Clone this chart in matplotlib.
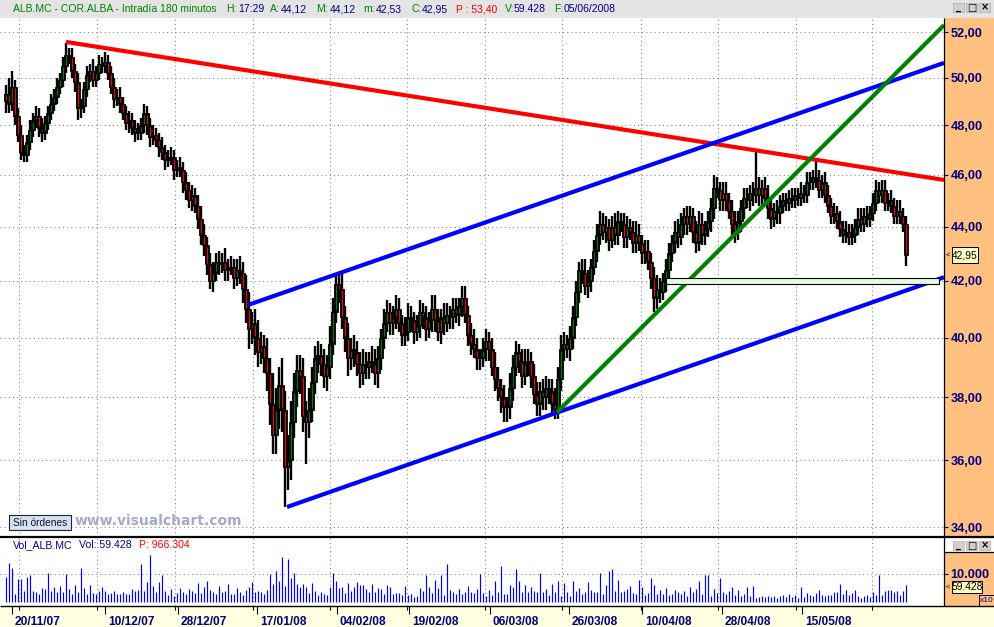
import matplotlib
matplotlib.use("Agg")
import matplotlib.pyplot as plt
from matplotlib.patches import Rectangle
from matplotlib.lines import Line2D
from matplotlib.ticker import NullLocator
import numpy as np

plt.rcParams['font.family'] = ['Liberation Sans', 'DejaVu Sans']

# ---------------------------------------------------------------- data
first_open = 49.0
close = [
    49.3, 48.9, 49.6, 48.4, 47.6, 46.9, 46.8, 47.3, 47.8, 48.2,
    48.4, 47.9, 47.7, 48.1, 48.5, 48.9, 49.2, 49.6, 49.9, 50.5,
    51.0, 50.9, 50.3, 49.8, 48.7, 48.8, 49.5, 50.1, 50.3, 49.9,
    50.2, 50.6, 50.5, 50.7, 50.2, 49.6, 49.1, 49.2, 48.9, 48.5,
    48.1, 48.2, 47.9, 47.7, 47.7, 48.0, 48.5, 48.0, 47.5, 47.6,
    47.4, 47.1, 46.9, 46.6, 46.7, 46.7, 46.2, 46.3, 46.2, 45.7,
    45.4, 45.0, 45.2, 44.8, 44.3, 43.7, 43.3, 42.6, 42.0, 42.3,
    42.7, 42.6, 42.7, 42.4, 42.5, 42.5, 42.1, 42.4, 42.3, 41.7,
    41.0, 40.3, 40.5, 40.0, 39.5, 39.7, 39.3, 38.8, 37.8, 36.8,
    37.6, 38.4, 37.6, 35.8, 36.0, 37.2, 38.2, 38.9, 38.7, 37.4,
    37.2, 37.6, 38.5, 39.3, 39.4, 39.1, 38.7, 39.0, 39.8, 40.9,
    41.9, 41.7, 40.7, 40.0, 39.3, 39.6, 39.5, 39.1, 38.8, 39.1,
    39.0, 39.2, 39.1, 38.8, 39.3, 40.0, 40.5, 40.9, 40.5, 40.7,
    41.0, 40.5, 40.1, 40.2, 40.7, 40.6, 40.2, 40.4, 40.9, 40.7,
    40.3, 40.6, 41.0, 40.6, 40.2, 40.7, 40.5, 40.8, 40.7, 41.0,
    40.8, 41.1, 41.4, 40.8, 40.1, 39.8, 39.6, 39.3, 39.3, 39.6,
    39.9, 39.6, 39.0, 38.6, 38.3, 38.0, 37.7, 37.7, 38.3, 39.0,
    39.5, 39.2, 38.7, 39.1, 39.2, 38.7, 38.1, 37.8, 38.2, 38.0,
    38.3, 38.2, 37.8, 37.6, 38.6, 39.6, 39.8, 39.6, 40.0, 40.7,
    41.6, 42.4, 42.3, 41.8, 42.0, 42.5, 43.1, 43.7, 44.1, 43.8,
    44.0, 43.5, 44.0, 43.7, 44.2, 44.1, 43.6, 44.0, 43.8, 43.4,
    43.7, 43.4, 43.0, 43.1, 42.7, 42.1, 41.4, 41.7, 41.6, 42.0,
    42.4, 43.0, 43.4, 43.8, 43.6, 44.1, 44.4, 44.1, 44.4, 43.8,
    43.4, 44.1, 43.7, 43.9, 44.2, 44.7, 45.5, 45.4, 45.0, 45.3,
    45.0, 44.6, 44.1, 43.8, 44.2, 44.7, 45.1, 45.0, 45.3, 45.2,
    45.5, 45.2, 45.5, 45.1, 44.7, 44.3, 44.6, 44.5, 44.8, 45.0,
    44.9, 45.1, 45.0, 45.2, 45.1, 45.3, 45.2, 45.7, 45.7, 45.9,
    45.8, 45.4, 45.7, 45.2, 44.8, 44.4, 44.5, 44.2, 43.9, 43.7,
    43.8, 43.6, 43.7, 44.0, 44.3, 44.1, 44.4, 44.3, 44.5, 44.9,
    45.4, 45.2, 45.4, 44.9, 45.0, 44.8, 44.4, 44.6, 44.4, 44.1,
    42.95,
]
# upper / lower shadow lengths, in tenths of a euro
wick_up = [
    4, 7, 7, 3, 3, 4, 3, 3, 4, 3, 4, 3, 4, 3, 3, 4, 3, 4, 3, 4,
    5, 3, 4, 3, 4, 3, 3, 4, 3, 5, 3, 4, 3, 4, 3, 3, 4, 3, 4, 3,
    3, 4, 3, 3, 4, 3, 4, 3, 3, 4, 3, 3, 4, 3, 3, 4, 3, 3, 4, 3,
    4, 3, 4, 3, 4, 5, 4, 3, 4, 4, 3, 4, 3, 5, 3, 4, 3, 4, 5, 4,
    5, 6, 4, 5, 6, 5, 4, 7, 5, 10, 7, 6, 9, 6, 8, 7, 6, 5, 5, 6,
    5, 7, 5, 4, 5, 4, 5, 4, 6, 5, 4, 4, 6, 4, 5, 4, 5, 4, 4, 5,
    4, 3, 5, 5, 4, 3, 5, 4, 3, 4, 5, 4, 3, 5, 5, 4, 3, 4, 4, 3,
    4, 3, 5, 5, 4, 3, 5, 4, 3, 4, 4, 3, 4, 4, 3, 4, 5, 4, 3, 4,
    4, 3, 4, 5, 4, 3, 4, 3, 5, 4, 4, 3, 4, 5, 4, 3, 4, 4, 3, 4,
    4, 3, 4, 5, 4, 5, 4, 3, 4, 4, 4, 3, 4, 5, 4, 3, 4, 4, 5, 4,
    4, 3, 4, 5, 4, 3, 4, 4, 3, 4, 5, 4, 3, 4, 4, 3, 4, 5, 4, 3,
    4, 4, 3, 4, 5, 4, 3, 4, 4, 3, 4, 5, 4, 3, 4, 4, 5, 4, 3, 4,
    4, 3, 4, 5, 4, 3, 4, 4, 3, 4, 14, 4, 3, 4, 5, 4, 3, 4, 4, 3,
    3, 3, 4, 3, 3, 4, 3, 4, 4, 3, 7, 4, 3, 4, 4, 3, 4, 3, 4, 3,
    4, 3, 4, 3, 4, 4, 3, 4, 3, 4, 4, 3, 4, 4, 3, 4, 3, 4, 4, 3, 3,
]
wick_dn = [
    5, 4, 3, 4, 3, 3, 3, 3, 3, 3, 3, 4, 4, 3, 3, 3, 3, 3, 3, 3,
    3, 3, 3, 4, 5, 4, 3, 3, 3, 3, 3, 3, 3, 3, 3, 3, 4, 3, 4, 3,
    3, 4, 3, 4, 3, 3, 3, 4, 4, 3, 3, 4, 3, 4, 3, 3, 4, 3, 3, 4,
    4, 3, 4, 3, 4, 4, 4, 4, 3, 4, 3, 4, 3, 4, 4, 3, 4, 3, 4, 5,
    5, 7, 5, 6, 5, 4, 5, 6, 7, 6, 6, 6, 7, 12, 7, 6, 5, 5, 6, 5,
    13, 5, 4, 4, 5, 4, 4, 5, 4, 4, 4, 5, 4, 5, 6, 4, 5, 4, 5, 4,
    4, 4, 3, 4, 5, 4, 4, 3, 4, 4, 4, 3, 4, 4, 3, 4, 4, 3, 4, 4,
    4, 3, 4, 4, 3, 4, 4, 3, 4, 4, 3, 4, 4, 3, 4, 4, 3, 4, 4, 3,
    4, 4, 3, 4, 4, 5, 5, 5, 4, 4, 3, 4, 4, 3, 4, 4, 3, 4, 4, 4,
    4, 4, 4, 3, 3, 4, 4, 3, 4, 4, 3, 4, 4, 3, 4, 4, 3, 4, 4, 3,
    4, 4, 3, 4, 4, 3, 4, 4, 3, 4, 4, 3, 4, 4, 3, 4, 5, 4, 4, 3,
    4, 4, 3, 4, 4, 3, 4, 4, 3, 4, 4, 3, 4, 4, 3, 4, 4, 3, 4, 4,
    4, 3, 4, 4, 3, 4, 4, 3, 4, 4, 3, 4, 4, 3, 4, 4, 3, 4, 4, 3,
    3, 3, 3, 3, 3, 3, 3, 3, 3, 3, 3, 3, 3, 3, 3, 3, 3, 3, 3, 3,
    3, 3, 3, 3, 3, 3, 3, 3, 3, 3, 3, 3, 3, 3, 3, 3, 3, 3, 3, 3, 4,
]
volume = [
    9000, 14000, 12300, 3000, 8100, 8100, 3800, 9000, 9600, 4000,
    3500, 2800, 5000, 4700, 10400, 4000, 5200, 3500, 5800, 3600,
    10000, 4500, 2800, 6000, 3700, 12000, 5000, 2800, 6000, 3200,
    2800, 3800, 5500, 4000, 2800, 3200, 3800, 2800, 3000, 3500,
    3000, 2800, 4500, 3800, 4200, 13500, 3800, 7000, 16800, 5800,
    3500, 7000, 9600, 3800, 2500, 4500, 2200, 3200, 5000, 3400,
    2800, 4800, 3900, 3300, 6800, 3200, 5200, 7600, 4200, 3600,
    3000, 5700, 3400, 3900, 6500, 2800, 3000, 4900, 3400, 2600,
    4200, 5300, 7100, 3500, 4100, 3400, 3000, 4300, 10000, 6300,
    11200, 7400, 16000, 5600, 15400, 8700, 10300, 6300, 5400, 6600,
    5400, 3300, 6700, 4000, 2600, 3400, 2700, 2600, 5400, 10300,
    7600, 4900, 5500, 3300, 6800, 4100, 5200, 7000, 6200, 5900,
    4600, 3500, 6400, 3500, 5100, 4700, 2700, 6200, 5200, 2800,
    3300, 3100, 2500, 5800, 2400, 3000, 1800, 2200, 5000, 3900,
    9600, 5300, 3200, 7800, 4900, 9600, 2600, 13500, 4300, 3500,
    2800, 4800, 2700, 3600, 5600, 3400, 3300, 4800, 10000, 3200,
    2200, 4300, 2500, 7600, 3500, 12900, 2700, 3000, 6000, 5300,
    11800, 7400, 3700, 6000, 3600, 5400, 3800, 3400, 10400, 3700,
    4500, 2400, 6600, 3500, 7400, 2300, 6700, 3600, 2200, 7400,
    4000, 5000, 2700, 3700, 7300, 4200, 3400, 3600, 10400, 3000,
    6100, 11000, 11800, 3800, 7800, 3600, 3800, 4500, 5600, 3200,
    3000, 7700, 5500, 2500, 3300, 8500, 5900, 2800, 4400, 3000,
    5100, 2400, 2800, 4300, 3500, 2700, 4000, 2300, 5200, 3500,
    4800, 7400, 3000, 9800, 9800, 2300, 4800, 3200, 8500, 3500,
    2800, 3900, 5200, 2500, 4400, 2200, 2900, 5500, 2000, 5600,
    1600, 1800, 2000, 1900, 2000, 1700, 2100, 1600, 2300, 2500,
    1800, 2800, 1900, 2500, 1500, 5400, 1700, 3100, 2600, 2000,
    3200, 4400, 2400, 2100, 2400, 2600, 3500, 3400, 6400, 2900,
    4400, 2600, 3300, 4300, 2000, 1500, 2100, 2600, 1800, 3400,
    2500, 9800, 2600, 4000, 4200, 4300, 3500, 4100, 2500, 3900, 5943,
]

date_labels = ["20/11/07", "10/12/07", "28/12/07", "17/01/08", "04/02/08", "19/02/08",
               "06/03/08", "26/03/08", "10/04/08", "28/04/08", "15/05/08"]
date_bars = [2.0, 33.0, 57.3, 83.7, 110.3, 134.3, 161.3, 187.7, 212.0, 238.7, 265.3]
grid_bars = [4.3, 30.3, 56.3, 82.3, 108.0, 133.7, 159.7, 185.3, 211.7, 237.3, 263.3, 288.7]

price_ticks = [34, 36, 38, 40, 42, 44, 46, 48, 50, 52]
price_labels = ["34,00", "36,00", "38,00", "40,00", "42,00", "44,00", "46,00", "48,00", "50,00", "52,00"]
vol_ticks = [10000]
vol_labels = ["10.000"]

# drawn trend lines: (bar index pair, price pair, colour)
trend_lines = [
    ([20.0, 312.67], [51.56, 45.80], '#FF0000'),
    ([80.67, 312.67], [41.14, 50.64], '#0000FF'),
    ([93.67, 312.67], [34.59, 42.13], '#0000FF'),
    ([183.67, 312.67], [37.52, 52.31], '#008000'),
]
zone_bars = [220.0, 311.0]
zone_prices = [41.88, 42.10]

last_price = "42,95"
last_volume = "59.428"

header = [
    ("ALB.MC - COR.ALBA - Intradía 180 minutos", '#008000', 13),
    ("H:", '#008000', 226), ("17:29", '#000080', 238),
    ("A:", '#008000', 270), ("44,12", '#000080', 281),
    ("M:", '#008000', 316), ("44,12", '#000080', 330),
    ("m:", '#008000', 363), ("42,53", '#000080', 376),
    ("C:", '#008000', 411), ("42,95", '#000080', 422),
    ("P : 53,40", '#FF0000', 456),
    ("V:", '#008000', 505), ("59.428", '#000080', 514),
    ("F:", '#008000', 554), ("05/06/2008", '#000080', 564),
]
vol_header = [("Vol_ALB.MC", '#0000A0', 13), ("Vol: 59.428", '#0000A0', 79),
              ("P: 966.304", '#FF0000', 139)]

# ---------------------------------------------------------------- layout
W, H, DPI = 994, 627, 100
TOP, MAIN_B, VOL_B, RIGHT = 18, 537, 606, 944
fig = plt.figure(figsize=(W / DPI, H / DPI), dpi=DPI)
fig.patch.set_facecolor('white')


def fx(px):
    return px / W


def fy(py):
    return 1 - py / H


def frect(x0, y0, x1, y1, fc, ec='none', lw=0.0, z=-1):
    r = Rectangle((fx(x0), fy(y1)), (x1 - x0) / W, (y1 - y0) / H,
                  transform=fig.transFigure, facecolor=fc, edgecolor=ec,
                  linewidth=lw, zorder=z)
    fig.add_artist(r)


def fline(x0, y0, x1, y1, lw=1.0, color='black', z=3):
    fig.add_artist(Line2D([fx(x0), fx(x1)], [fy(y0), fy(y1)], transform=fig.transFigure,
                          color=color, linewidth=lw, zorder=z, solid_capstyle='butt'))


ORANGE = '#FFC080'
frect(0, 0, W, TOP, '#E4E4E4')
frect(RIGHT, TOP, W, MAIN_B, ORANGE)
frect(RIGHT, 552, W, VOL_B, ORANGE)
frect(0, VOL_B, W, H, '#FFFFE1')

GRID = dict(color='#808080', linestyle=(0, (1, 3)), linewidth=0.75)

# ---------------- main price panel
ax = fig.add_axes([0, fy(MAIN_B), fx(RIGHT), (MAIN_B - TOP) / H])
ax.set_facecolor('white')
for s in ax.spines.values():
    s.set_visible(False)
ax.set_yscale('log')
ax.set_xlim(-2, 312.67)
ax.set_ylim(33.71, 52.63)
ax.yaxis.tick_right()
ax.set_yticks(price_ticks)
ax.set_yticklabels(price_labels)
ax.yaxis.set_minor_locator(NullLocator())
ax.tick_params(axis='y', which='major', direction='out', length=3.2, width=0.8,
               pad=1.5, labelsize=9.2, labelcolor='#000080', color='#000080')
for t in ax.get_yticklabels():
    t.set_fontweight('bold')
ax.set_xticks([])
ax.set_xticks(grid_bars, minor=True)
ax.tick_params(axis='x', which='both', length=0, labelbottom=False)
ax.grid(True, which='major', axis='y', **GRID)
ax.grid(True, which='minor', axis='x', **GRID)
ax.set_axisbelow(True)

n = len(close)
xb = np.arange(n)
cl = np.array(close)
op = np.array([first_open] + close[:-1])
b_lo = np.minimum(op, cl)
b_hi = np.maximum(op, cl)
hi = b_hi + np.array(wick_up) / 10.0
lo = b_lo - np.array(wick_dn) / 10.0

ax.vlines(xb, lo, hi, color='black', linewidth=1.7, zorder=3)
ax.bar(xb, b_hi - b_lo, bottom=b_lo, width=1.15, color='black', edgecolor='black',
       linewidth=0.6, zorder=4)
k = np.exp(1.3 / 1165.0)
mask = b_hi / b_lo > k ** 3
col = np.where(cl >= op, '#008000', '#FF0000')
ax.vlines(xb[mask], b_lo[mask] * k, b_hi[mask] / k, colors=col[mask], linewidth=0.8, zorder=5)

for xs, ys, c in trend_lines:
    ax.plot(xs, ys, color=c, linewidth=3.0, zorder=6, solid_capstyle='butt')
ax.add_patch(Rectangle((zone_bars[0], zone_prices[0]), zone_bars[1] - zone_bars[0],
                       zone_prices[1] - zone_prices[0], facecolor='#E2FAE2',
                       edgecolor='black', linewidth=0.8, zorder=6))

# ---------------- volume panel
axv = fig.add_axes([0, fy(VOL_B), fx(RIGHT), (VOL_B - MAIN_B) / H])
axv.set_facecolor('white')
for s in axv.spines.values():
    s.set_visible(False)
axv.set_xlim(-2, 312.67)
axv.set_ylim(-1430, 23200)
axv.vlines(xb, 0, volume, color='#0000FF', linewidth=0.85, zorder=3)
axv.yaxis.tick_right()
axv.set_yticks(vol_ticks)
axv.set_yticklabels(vol_labels)
axv.tick_params(axis='y', direction='out', length=3.2, width=0.8, pad=1.5,
                labelsize=9.2, labelcolor='#000080', color='#000080')
for t in axv.get_yticklabels():
    t.set_fontweight('bold')
axv.set_xticks(date_bars)
axv.set_xticks(grid_bars, minor=True)
axv.tick_params(axis='x', which='major', direction='out', length=6, width=0.8,
                color='black', labelbottom=False)
axv.tick_params(axis='x', which='minor', direction='out', length=3, width=0.8,
                color='black')
axv.grid(True, which='minor', axis='x', **GRID)
axv.grid(True, which='major', axis='y', **GRID)
axv.set_axisbelow(True)

for b, lab in zip(date_bars, date_labels):
    axv.text(b + 1.0, -0.225, lab, transform=axv.get_xaxis_transform(), ha='left',
             va='center', fontsize=8.6, fontweight='bold', color='#000080', clip_on=False)

# ---------------- frame lines
fline(0, MAIN_B, W, MAIN_B, lw=1.6)
fline(0, VOL_B, W, VOL_B, lw=1.0)
fline(RIGHT, TOP, RIGHT, VOL_B, lw=0.9)
fline(RIGHT, 552, W, 552, lw=0.9)

# ---------------- texts
for s, c, x in header:
    fig.text(fx(x), fy(9), s, color=c, fontsize=7.5, ha='left', va='center')
for s, c, x in vol_header:
    fig.text(fx(x), fy(545), s, color=c, fontsize=7.6, ha='left', va='center')

fig.text(fx(75), fy(521), 'www.visualchart.com', fontsize=10, fontweight='bold',
         color='#A3AACB', family='DejaVu Sans', ha='left', va='center')
frect(9, 515, 71, 530, '#D6E2EE', ec='#202040', lw=0.8, z=5)
fig.text(fx(40), fy(522.5), 'Sin órdenes', fontsize=7.3, color='#101030', ha='center',
         va='center', zorder=6)

# value boxes on the scales
frect(952, 247, 978, 263, '#FFFFC8', ec='black', lw=0.7, z=5)
fig.text(fx(965), fy(255.5), last_price, fontsize=7.4, ha='center', va='center', zorder=6)
fig.text(fx(948), fy(255), '<', fontsize=5.5, ha='center', va='center', zorder=6)
frect(952, 581, 982, 593, '#FFFFC8', ec='black', lw=0.7, z=5)
fig.text(fx(967), fy(587.5), last_volume, fontsize=7.4, ha='center', va='center', zorder=6)
fig.text(fx(948), fy(587), '<', fontsize=5.5, ha='center', va='center', zorder=6)
frect(979, 595, 994, 606, 'none', ec='black', lw=0.7, z=5)
fig.text(fx(986.5), fy(600.5), 'x10', fontsize=6.0, color='#000080', ha='center',
         va='center', zorder=6)

# window buttons
for ytop in (3, 541):
    for x0, sym in ((953, '_'), (966, '□'), (979, '×')):
        frect(x0, ytop, x0 + 11, ytop + 9, '#D4D0C8', ec='#A0A0A0', lw=0.4, z=5)
        fig.text(fx(x0 + 5.5), fy(ytop + 4.5), sym, fontsize=7, family='DejaVu Sans',
                 fontweight='bold', ha='center', va='center', zorder=6, color='black')

fig.savefig('out.png', dpi=DPI, facecolor='white')
